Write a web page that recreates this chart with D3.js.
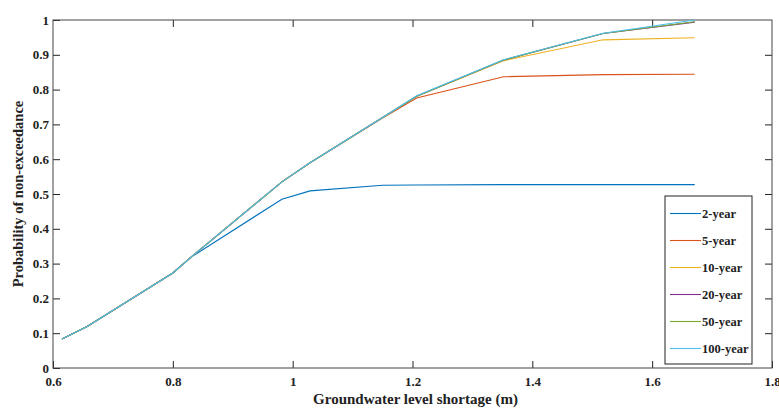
<!DOCTYPE html>
<html>
<head>
<meta charset="utf-8">
<script src="https://cdn.jsdelivr.net/npm/d3@7"></script>
<style>
  body { margin: 0; background: #fff; }
  svg text { font-family: "Liberation Serif", "Times New Roman", serif; font-weight: bold; fill: #222; }
</style>
</head>
<body>
<div id="chart"></div>
<script>
const width = 779;
const height = 408;
const margin = {top: 20, right: 7, bottom: 40, left: 53};

// groundwater level shortage (m)
const shortage = [0.615, 0.657, 0.8, 0.83, 0.982, 1.029, 1.15, 1.207, 1.352, 1.518, 1.671];
// probability of non-exceedance per return period
const year2 = [0.083, 0.119, 0.273, 0.318, 0.485, 0.509, 0.525, 0.526, 0.527, 0.527, 0.527];
const year5 = [0.083, 0.119, 0.273, 0.318, 0.535, 0.590, 0.718, 0.776, 0.837, 0.843, 0.844];
const year10 = [0.083, 0.119, 0.273, 0.318, 0.535, 0.590, 0.720, 0.781, 0.883, 0.943, 0.949];
const year20 = [0.083, 0.119, 0.273, 0.318, 0.535, 0.590, 0.720, 0.781, 0.885, 0.961, 0.994];
const year50 = [0.083, 0.119, 0.273, 0.318, 0.535, 0.590, 0.720, 0.781, 0.885, 0.961, 0.995];
const year100 = [0.083, 0.119, 0.273, 0.318, 0.535, 0.590, 0.720, 0.782, 0.886, 0.962, 1.0];

const seriesNames = ["2-year", "5-year", "10-year", "20-year", "50-year", "100-year"];
const seriesValues = [year2, year5, year10, year20, year50, year100];
const colors = ["#0072BD", "#D95319", "#EDB120", "#7E2F8E", "#77AC30", "#4DBEEE"];

const xTicks = [0.6, 0.8, 1, 1.2, 1.4, 1.6, 1.8];
const yTicks = [0, 0.1, 0.2, 0.3, 0.4, 0.5, 0.6, 0.7, 0.8, 0.9, 1];

const innerW = width - margin.left - margin.right;
const innerH = height - margin.top - margin.bottom;

const svg = d3.select("#chart").append("svg")
    .attr("width", width)
    .attr("height", height);

const g = svg.append("g")
    .attr("transform", "translate(" + margin.left + "," + margin.top + ")");

const x = d3.scaleLinear().domain([0.6, 1.8]).range([0, innerW]);
const y = d3.scaleLinear().domain([0, 1]).range([innerH, 0]);

// axes, ticks pointing inwards on all four sides
function styleAxis(sel) {
    sel.select(".domain").remove();
    sel.selectAll(".tick line").attr("stroke", "#222");
    sel.selectAll(".tick text").style("font-size", "13px");
}

g.append("g")
    .attr("transform", "translate(0," + innerH + ")")
    .call(d3.axisBottom(x).tickValues(xTicks).tickFormat(d3.format("")).tickSizeInner(-7).tickPadding(9))
    .call(styleAxis);

g.append("g")
    .call(d3.axisLeft(y).tickValues(yTicks).tickFormat(d3.format("")).tickSizeInner(-7).tickPadding(4))
    .call(styleAxis);

g.append("g")
    .call(d3.axisTop(x).tickValues(xTicks.slice(1, -1)).tickFormat("").tickSizeInner(-7))
    .call(styleAxis);

g.append("g")
    .attr("transform", "translate(" + innerW + ",0)")
    .call(d3.axisRight(y).tickValues(yTicks.slice(1, -1)).tickFormat("").tickSizeInner(-7))
    .call(styleAxis);

g.append("rect")
    .attr("width", innerW)
    .attr("height", innerH)
    .attr("fill", "none")
    .attr("stroke", "#444")
    .attr("stroke-width", 1);

// lines
const line = d3.line()
    .x((d, i) => x(shortage[i]))
    .y(d => y(d));

g.selectAll(".series")
    .data(seriesValues)
    .enter()
    .append("path")
    .attr("class", "series")
    .attr("d", d => line(d))
    .attr("fill", "none")
    .attr("stroke", (d, i) => colors[i])
    .attr("stroke-width", 1.1);

// axis titles
svg.append("text")
    .attr("x", margin.left + innerW / 2 + 3)
    .attr("y", 404)
    .attr("text-anchor", "middle")
    .style("font-size", "15px")
    .text("Groundwater level shortage (m)");

svg.append("text")
    .attr("transform", "translate(23," + (margin.top + innerH / 2) + ") rotate(-90)")
    .attr("text-anchor", "middle")
    .style("font-size", "14.5px")
    .text("Probability of non-exceedance");

// legend
const legend = svg.append("g").attr("transform", "translate(665,196)");
legend.append("rect")
    .attr("width", 87)
    .attr("height", 168)
    .attr("fill", "#fff")
    .attr("stroke", "#222");

const items = legend.selectAll(".item")
    .data(seriesNames)
    .enter()
    .append("g")
    .attr("transform", (d, i) => "translate(0," + (17.5 + i * 27) + ")");

items.append("line")
    .attr("x1", 5).attr("x2", 36)
    .attr("stroke", (d, i) => colors[i])
    .attr("stroke-width", 1.1);

items.append("text")
    .attr("x", 37)
    .attr("dy", "0.35em")
    .style("font-size", "12.5px")
    .text(d => d);
</script>
</body>
</html>
